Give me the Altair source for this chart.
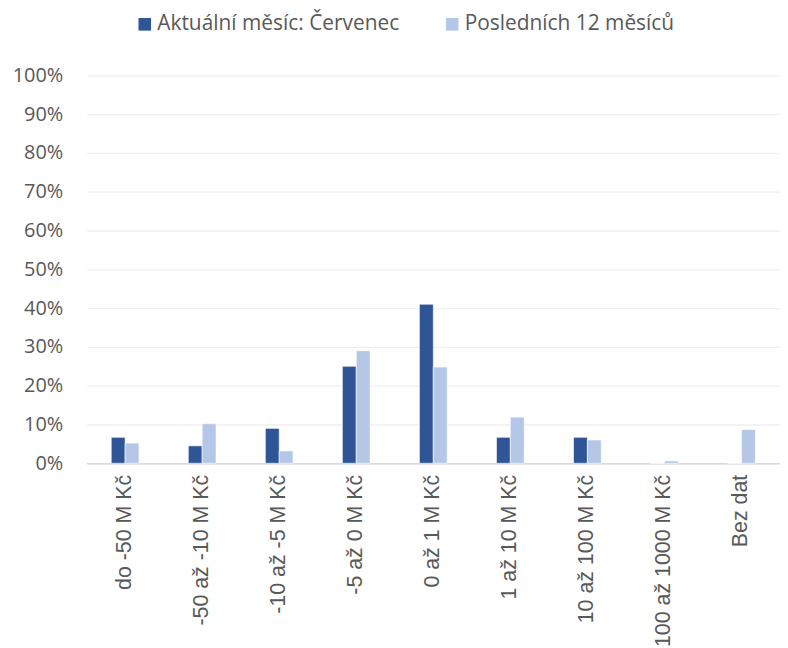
import altair as alt
import pandas as pd

categories = ["do -50 M Kč", "-50 až -10 M Kč", "-10 až -5 M Kč", "-5 až 0 M Kč",
              "0 až 1 M Kč", "1 až 10 M Kč", "10 až 100 M Kč", "100 až 1000 M Kč", "Bez dat"]
series = ["Aktuální měsíc: Červenec", "Posledních 12 měsíců"]
current = [0.067, 0.045, 0.090, 0.250, 0.410, 0.067, 0.067, 0.0, 0.0]
last12 = [0.052, 0.102, 0.032, 0.290, 0.248, 0.119, 0.060, 0.006, 0.087]
colors = ["#2F5597", "#B4C7E7"]

rows = []
for i, c in enumerate(categories):
    rows.append({"cat": c, "series": series[0], "value": current[i]})
    rows.append({"cat": c, "series": series[1], "value": last12[i]})
df = pd.DataFrame(rows)

FONT = "Open Sans"
XFONT = "Liberation Sans"
LBL = "#595959"

chart = alt.Chart(df).mark_bar(stroke="white", strokeWidth=0.6).encode(
    x=alt.X("cat:N", sort=categories, title=None,
            scale=alt.Scale(paddingInner=0.64, paddingOuter=0.32),
            axis=alt.Axis(labelAngle=-90, labelAlign="right", labelBaseline="middle",
                          labelPadding=11, ticks=False, domainColor="#d9d9d9",
                          domainWidth=1.5, labelFont=XFONT, labelFontSize=21.5,
                          labelColor=LBL, grid=False, labelLimit=300)),
    xOffset=alt.XOffset("series:N", sort=series, scale=alt.Scale(paddingInner=0, paddingOuter=0)),
    y=alt.Y("value:Q", title=None,
            scale=alt.Scale(domain=[0, 1], nice=False),
            axis=alt.Axis(format=".0%", values=[i / 10 for i in range(11)],
                          ticks=False, domain=False, labelPadding=24,
                          gridColor="#efefef", gridWidth=1.3,
                          labelFont=FONT, labelFontSize=20, labelColor=LBL)),
    color=alt.Color("series:N", sort=series,
                    scale=alt.Scale(domain=series, range=colors),
                    legend=alt.Legend(title=None, orient="none", direction="horizontal",
                                      legendX=48, legendY=-62, symbolType="square",
                                      symbolSize=160, symbolStrokeWidth=0,
                                      labelFont=FONT, labelFontSize=21, labelColor=LBL,
                                      labelOffset=2, columnPadding=42, labelLimit=400)),
).properties(
    width=697, height=390,
    padding={"left": 79, "top": 66, "right": 0, "bottom": 183},
    autosize=alt.AutoSizeParams(type="none"),
).configure_view(stroke=None)

chart.save("out.html", embed_options={"renderer": "svg", "actions": False})
